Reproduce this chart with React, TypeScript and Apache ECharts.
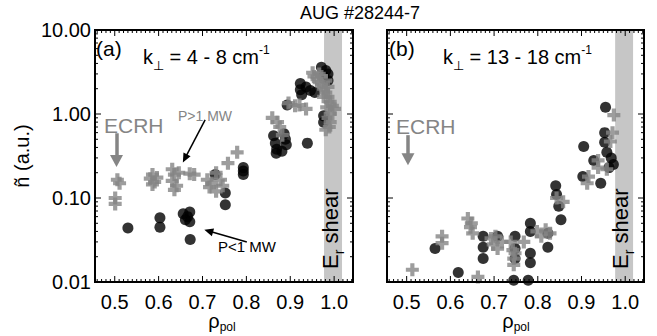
import React, { useEffect, useRef } from 'react';
import * as echarts from 'echarts';

const FONT = '"Liberation Sans", Arial, Helvetica, sans-serif';
const X_MIN = 0.455;
const X_MAX = 1.043;
const Y_MIN = 0.01;
const Y_MAX = 10;
const X_TICK_LABELS = [0.5, 0.6, 0.7, 0.8, 0.9, 1.0];
const Y_TICK_LABELS = [0.01, 0.1, 1, 10];
const SHEAR = [0.977, 1.018];

// (a) k = 4-8 cm^-1, P > 1 MW (grey crosses)
const leftHigh = [
  [0.506, 0.165], [0.511, 0.15], [0.501, 0.1], [0.501, 0.085],
  [0.581, 0.17], [0.586, 0.19], [0.591, 0.155], [0.586, 0.145], [0.596, 0.175],
  [0.631, 0.22], [0.636, 0.19], [0.631, 0.16], [0.641, 0.14], [0.636, 0.125], [0.646, 0.2],
  [0.671, 0.195], [0.681, 0.19],
  [0.711, 0.165], [0.716, 0.135], [0.731, 0.12], [0.741, 0.165], [0.746, 0.14], [0.731, 0.2], [0.721, 0.15],
  [0.758, 0.26], [0.779, 0.35],
  [0.859, 0.9], [0.871, 0.8], [0.882, 0.56], [0.876, 0.7],
  [0.896, 1.35], [0.911, 1.25], [0.921, 1.28], [0.936, 1.15],
  [0.951, 3.1], [0.954, 2.8], [0.961, 2.6], [0.966, 2.4], [0.971, 2.2], [0.976, 2.0], [0.981, 1.8],
  [0.986, 1.6], [0.991, 1.4], [0.996, 1.25], [1.001, 1.15], [0.991, 1.0], [0.986, 0.9], [0.991, 0.8],
  [0.989, 0.7], [0.981, 0.65], [0.971, 2.8], [0.981, 2.5], [0.986, 2.1], [0.966, 3.0], [0.976, 1.6], [0.983, 1.2],
];

// (a) P < 1 MW (black dots)
const leftLow = [
  [0.53, 0.044],
  [0.603, 0.058], [0.603, 0.045],
  [0.656, 0.065], [0.661, 0.055], [0.671, 0.068], [0.671, 0.052], [0.666, 0.06],
  [0.672, 0.032],
  [0.729, 0.19], [0.752, 0.115], [0.752, 0.083],
  [0.793, 0.23], [0.793, 0.21], [0.793, 0.19],
  [0.862, 0.55], [0.866, 0.45], [0.869, 0.38], [0.868, 0.34], [0.886, 0.58], [0.889, 0.5], [0.891, 0.43], [0.881, 0.36],
  [0.939, 0.45],
  [0.893, 1.28],
  [0.923, 2.3], [0.923, 1.95], [0.926, 1.7],
  [0.936, 2.1], [0.946, 1.9], [0.956, 1.8],
  [0.971, 3.6], [0.981, 3.3], [0.986, 3.0], [0.976, 2.8], [0.986, 2.5],
  [0.976, 0.95], [0.976, 0.8],
];

// (b) k = 13-18 cm^-1, P > 1 MW (grey crosses)
const rightHigh = [
  [0.513, 0.014],
  [0.581, 0.035], [0.581, 0.029],
  [0.64, 0.057], [0.646, 0.045], [0.651, 0.038], [0.648, 0.05],
  [0.663, 0.0115],
  [0.693, 0.033], [0.698, 0.028], [0.708, 0.025], [0.718, 0.03], [0.703, 0.035],
  [0.738, 0.03], [0.743, 0.024], [0.745, 0.019], [0.745, 0.016], [0.748, 0.022],
  [0.768, 0.03],
  [0.798, 0.04], [0.808, 0.035], [0.818, 0.042], [0.828, 0.038],
  [0.843, 0.1], [0.858, 0.09],
  [0.916, 0.18], [0.913, 0.15], [0.938, 0.28], [0.938, 0.23], [0.958, 0.22], [0.966, 0.47], [0.971, 0.6], [0.974, 0.97],
];

// (b) P < 1 MW (black dots)
const rightLow = [
  [0.565, 0.025],
  [0.618, 0.013],
  [0.675, 0.035], [0.675, 0.026], [0.675, 0.019],
  [0.708, 0.035],
  [0.748, 0.035], [0.748, 0.025], [0.748, 0.019], [0.745, 0.0105],
  [0.783, 0.05], [0.783, 0.04], [0.783, 0.022], [0.783, 0.017], [0.778, 0.0105],
  [0.823, 0.038], [0.823, 0.026],
  [0.841, 0.14], [0.843, 0.11], [0.848, 0.08], [0.853, 0.055],
  [0.905, 0.41], [0.903, 0.18], [0.944, 0.15],
  [0.955, 1.2], [0.953, 0.6], [0.953, 0.46], [0.958, 0.35],
  [0.928, 0.28], [0.968, 0.3], [0.973, 0.25], [0.963, 0.23],
];

// annotation arrows (data coordinates)
const ecrhArrowA = [[0.504, 0.59], [0.504, 0.276]];
const ecrhArrowB = [[0.503, 0.56], [0.503, 0.29]];
const highArrow = [[0.706, 0.85], [0.66, 0.296]];
const lowArrow = [[0.801, 0.03], [0.714, 0.0404]];

const GREY = '#858585';
const CROSS = 'path://M3.4,0H6.6V3.4H10V6.6H6.6V10H3.4V6.6H0V3.4H3.4Z';

function tickData() {
  const d: number[][] = [];
  X_TICK_LABELS.forEach((v) => d.push([v, 1, 0]));
  for (let i = 46; i <= 104; i++) if (i % 10 !== 0) d.push([i / 100, 1, 1]);
  Y_TICK_LABELS.forEach((v) => d.push([0.7, v, 2]));
  [0.01, 0.1, 1].forEach((dec) => {
    for (let m = 2; m <= 9; m++) d.push([0.7, m * dec, 3]);
  });
  d.push([0.7, 1, 4]);
  return d;
}

const renderTicks = (params: any, api: any) => {
  const kind = api.value(2);
  const st = { stroke: '#000', lineWidth: 1 };
  if (kind === 4) {
    const p0 = api.coord([X_MIN, Y_MAX]);
    const p1 = api.coord([X_MAX, Y_MIN]);
    return {
      type: 'rect',
      shape: { x: p0[0], y: p0[1], width: p1[0] - p0[0], height: p1[1] - p0[1] },
      style: { fill: 'none', stroke: '#000', lineWidth: 2 },
    };
  }
  if (kind < 2) {
    const xv = api.value(0);
    const b = api.coord([xv, Y_MIN]);
    const t = api.coord([xv, Y_MAX]);
    const L = kind === 0 ? 6 : 3;
    return {
      type: 'group',
      children: [
        { type: 'line', shape: { x1: b[0], y1: b[1], x2: b[0], y2: b[1] - L }, style: st },
        { type: 'line', shape: { x1: t[0], y1: t[1], x2: t[0], y2: t[1] + L }, style: st },
      ],
    };
  }
  const yv = api.value(1);
  const l = api.coord([X_MIN, yv]);
  const r = api.coord([X_MAX, yv]);
  const L = kind === 2 ? 6 : 3;
  return {
    type: 'group',
    children: [
      { type: 'line', shape: { x1: l[0], y1: l[1], x2: l[0] + L, y2: l[1] }, style: st },
      { type: 'line', shape: { x1: r[0], y1: r[1], x2: r[0] - L, y2: r[1] }, style: st },
    ],
  };
};

const arrowLine = (pts: number[][], color: string, width: number, size: number[]) => {
  const ls = { color, width, type: 'solid', opacity: 1 };
  return [
    { coord: pts[0], symbol: 'none', lineStyle: ls, itemStyle: { color } },
    { coord: pts[1], symbol: 'triangle', symbolSize: size, lineStyle: ls, itemStyle: { color } },
  ];
};

const kRich = {
  m: { fontSize: 20, fontFamily: FONT, fill: '#000', lineHeight: 24, verticalAlign: 'middle' },
  s: { fontSize: 13, fontFamily: FONT, fill: '#000', lineHeight: 14, padding: [16, 0, 0, 0], verticalAlign: 'middle' },
  p: { fontSize: 12, fontFamily: FONT, fill: '#000', lineHeight: 12, padding: [0, 0, 14, 0], verticalAlign: 'middle' },
};

const textEl = (x: number, y: number, text: string, fontSize: number, fill: string, extra: any = {}) => ({
  type: 'text',
  x,
  y,
  ...extra,
  style: {
    text,
    fontSize,
    fontFamily: FONT,
    fill,
    align: extra.align || 'left',
    textAlign: extra.align || 'left',
    verticalAlign: 'middle',
    textVerticalAlign: 'middle',
    ...(extra.style || {}),
  },
});

export default function App() {
  const ref = useRef<HTMLDivElement>(null);
  useEffect(() => {
    if (!ref.current) return;
    const chart = echarts.init(ref.current, undefined, { renderer: 'svg' });
    const ticks = tickData();
    const xAxis = [0, 1].map((i) => ({
      type: 'value',
      gridIndex: i,
      min: X_MIN,
      max: X_MAX,
      axisLine: { show: false },
      axisTick: { show: false },
      splitLine: { show: false },
      axisLabel: {
        fontSize: 20,
        color: '#000',
        fontFamily: FONT,
        margin: 10,
        formatter: (v: number) => (X_TICK_LABELS.some((t) => Math.abs(t - v) < 1e-6) ? v.toFixed(1) : ''),
      },
    }));
    const yAxis = [0, 1].map((i) => ({
      type: 'log',
      logBase: 10,
      gridIndex: i,
      min: Y_MIN,
      max: Y_MAX,
      axisLine: { show: false },
      axisTick: { show: false },
      splitLine: { show: false },
      axisLabel: {
        show: i === 0,
        fontSize: 20,
        color: '#000',
        fontFamily: FONT,
        margin: 4,
        padding: [7, 0, 0, 0],
        formatter: (v: number) => v.toFixed(2),
      },
    }));
    const dotSeries = (i: number, data: number[][], lines: any[]) => ({
      type: 'scatter',
      xAxisIndex: i,
      yAxisIndex: i,
      data,
      symbol: 'circle',
      symbolSize: 11,
      itemStyle: { color: '#000' },
      z: 2,
      silent: true,
      markArea: {
        silent: true,
        itemStyle: { color: '#c6c6c6' },
        data: [[{ xAxis: SHEAR[0] }, { xAxis: SHEAR[1] }]],
      },
      markLine: {
        silent: true,
        label: { show: false },
        symbol: ['none', 'triangle'],
        lineStyle: { type: 'solid' },
        emphasis: { disabled: true },
        data: lines,
      },
    });
    const crossSeries = (i: number, data: number[][]) => ({
      type: 'scatter',
      xAxisIndex: i,
      yAxisIndex: i,
      data,
      symbol: CROSS,
      symbolSize: 13,
      itemStyle: { color: GREY },
      z: 3,
      silent: true,
    });
    const tickSeries = (i: number) => ({
      type: 'custom',
      xAxisIndex: i,
      yAxisIndex: i,
      data: ticks,
      renderItem: renderTicks,
      z: 10,
      silent: true,
    });
    const shearText = (x: number) => ({
      type: 'text',
      x,
      y: 269,
      rotation: Math.PI / 2,
      style: {
        text: '{e|E}{r|r}{s| shear}',
        align: 'left',
        textAlign: 'left',
        verticalAlign: 'middle',
        textVerticalAlign: 'middle',
        rich: {
          e: { fontSize: 22, fontFamily: FONT, fill: '#000', lineHeight: 26, verticalAlign: 'middle' },
          r: { fontSize: 14, fontFamily: FONT, fill: '#000', lineHeight: 14, padding: [17, 0, 0, 0], verticalAlign: 'middle' },
          s: { fontSize: 22, fontFamily: FONT, fill: '#000', lineHeight: 26, verticalAlign: 'middle' },
        },
      },
      z: 20,
    });
    const rhoText = (x: number) => ({
      type: 'text',
      x,
      y: 321,
      style: {
        text: '{m|ρ}{s|pol}',
        align: 'center',
        textAlign: 'center',
        verticalAlign: 'middle',
        textVerticalAlign: 'middle',
        rich: {
          m: { fontSize: 20, fontFamily: FONT, fill: '#000', lineHeight: 22, verticalAlign: 'middle' },
          s: { fontSize: 12, fontFamily: FONT, fill: '#000', lineHeight: 12, padding: [12, 0, 0, 0], verticalAlign: 'middle' },
        },
      },
    });
    const kText = (x: number, text: string) => ({
      type: 'text',
      x,
      y: 57,
      style: {
        text,
        align: 'left',
        textAlign: 'left',
        verticalAlign: 'middle',
        textVerticalAlign: 'middle',
        rich: kRich,
      },
    });
    chart.setOption({
      animation: false,
      grid: [
        { left: 95, top: 30, width: 258, height: 252 },
        { left: 387, top: 30, width: 257, height: 252 },
      ],
      xAxis,
      yAxis,
      series: [
        dotSeries(0, leftLow, [
          arrowLine(ecrhArrowA, GREY, 3.5, [13, 12]),
          arrowLine(highArrow, '#000', 1.5, [8, 9]),
          arrowLine(lowArrow, '#000', 1.5, [8, 9]),
        ]),
        crossSeries(0, leftHigh),
        tickSeries(0),
        dotSeries(1, rightLow, [arrowLine(ecrhArrowB, GREY, 3.5, [13, 12])]),
        crossSeries(1, rightHigh),
        tickSeries(1),
      ],
      graphic: [
        textEl(360, 13, 'AUG #28244-7', 18, '#000', { align: 'center' }),
        textEl(96, 48, '(a)', 21, '#000'),
        textEl(389, 48, '(b)', 21, '#000'),
        kText(143, '{m|k}{s|⊥}{m| = 4 - 8 cm}{p|-1}'),
        kText(443, '{m|k}{s|⊥}{m| = 13 - 18 cm}{p|-1}'),
        textEl(104, 125, 'ECRH', 21, GREY),
        textEl(396, 126, 'ECRH', 21, GREY),
        textEl(178, 116, 'P>1 MW', 14, GREY),
        textEl(218, 246, 'P<1 MW', 15, '#000'),
        shearText(330),
        shearText(620),
        textEl(22, 156, 'ñ (a.u.)', 20, '#000', { align: 'center', rotation: Math.PI / 2 }),
        rhoText(222),
        rhoText(516),
      ],
    });
    return () => chart.dispose();
  }, []);
  return (
    <div
      ref={ref}
      style={{ position: 'absolute', left: 0, top: 0, width: 657, height: 336, background: '#fff' }}
    />
  );
}
